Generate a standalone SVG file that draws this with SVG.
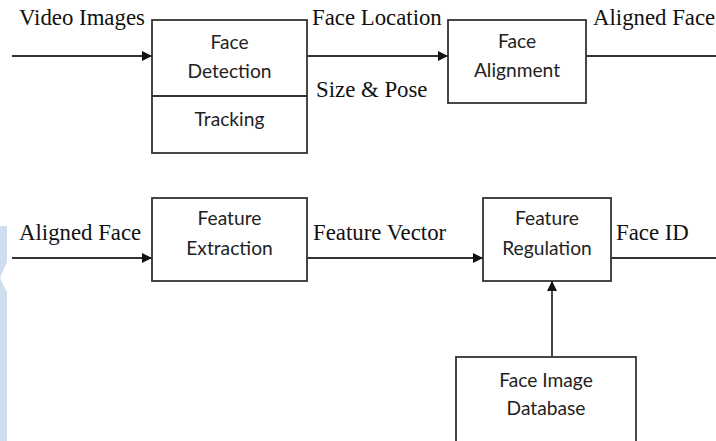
<svg xmlns="http://www.w3.org/2000/svg" width="716" height="441" viewBox="0 0 716 441">
<style>
.box{fill:#fff;stroke:#333;stroke-width:1.8}
.ln{fill:none;stroke:#333;stroke-width:1.8}
.lbl{font-family:"Times New Roman","Liberation Serif",serif;font-size:22.8px;fill:#111}
.nt{font-family:"Lato","Open Sans","Liberation Sans",sans-serif;font-size:19.2px;fill:#222;text-anchor:middle}
</style>
<defs>
<marker id="ah" viewBox="0 0 10 10" refX="10" refY="5" markerWidth="10" markerHeight="10" markerUnits="userSpaceOnUse" orient="auto">
<path d="M0,0 L10,5 L0,10 Z" fill="#111"/>
</marker>
</defs>
<rect width="716" height="441" fill="#fff"/>
<g id="watermark">
<rect x="0" y="226" width="7" height="215" fill="#cfdeee"/>
<polygon points="7,262 0,278 7,292" fill="#fff"/>
</g>
<g id="connectors">
<line class="ln" x1="12" y1="56" x2="152" y2="56" marker-end="url(#ah)"/>
<line class="ln" x1="307" y1="56" x2="448" y2="56" marker-end="url(#ah)"/>
<line class="ln" x1="586" y1="56" x2="716" y2="56"/>
<line class="ln" x1="12" y1="258" x2="152" y2="258" marker-end="url(#ah)"/>
<line class="ln" x1="307" y1="258" x2="483" y2="258" marker-end="url(#ah)"/>
<line class="ln" x1="611" y1="258" x2="716" y2="258"/>
<line class="ln" x1="552" y1="357" x2="552" y2="281" marker-end="url(#ah)"/>
</g>
<g id="labels">
<text class="lbl" x="19" y="25">Video Images</text>
<text class="lbl" x="312" y="25">Face Location</text>
<text class="lbl" x="316" y="97">Size &amp; Pose</text>
<text class="lbl" x="593" y="25">Aligned Face</text>
<text class="lbl" x="19" y="240">Aligned Face</text>
<text class="lbl" x="313" y="240">Feature Vector</text>
<text class="lbl" x="616" y="240">Face ID</text>
</g>
<g id="face-detection">
<rect class="box" x="152" y="20" width="155" height="133"/>
<line class="ln" x1="152" y1="96" x2="307" y2="96"/>
<text class="nt" x="229.5" y="49">Face</text>
<text class="nt" x="229.5" y="78">Detection</text>
<text class="nt" x="229.5" y="126">Tracking</text>
</g>
<g id="face-alignment">
<rect class="box" x="448" y="20" width="138" height="83"/>
<text class="nt" x="517" y="48">Face</text>
<text class="nt" x="517" y="77">Alignment</text>
</g>
<g id="feature-extraction">
<rect class="box" x="152" y="198" width="155" height="83"/>
<text class="nt" x="229.5" y="225">Feature</text>
<text class="nt" x="229.5" y="255">Extraction</text>
</g>
<g id="feature-regulation">
<rect class="box" x="483" y="198" width="128" height="83"/>
<text class="nt" x="547" y="225">Feature</text>
<text class="nt" x="547" y="255">Regulation</text>
</g>
<g id="face-image-database">
<rect class="box" x="456" y="357" width="180" height="90"/>
<text class="nt" x="546" y="387">Face Image</text>
<text class="nt" x="546" y="415">Database</text>
</g>
</svg>
